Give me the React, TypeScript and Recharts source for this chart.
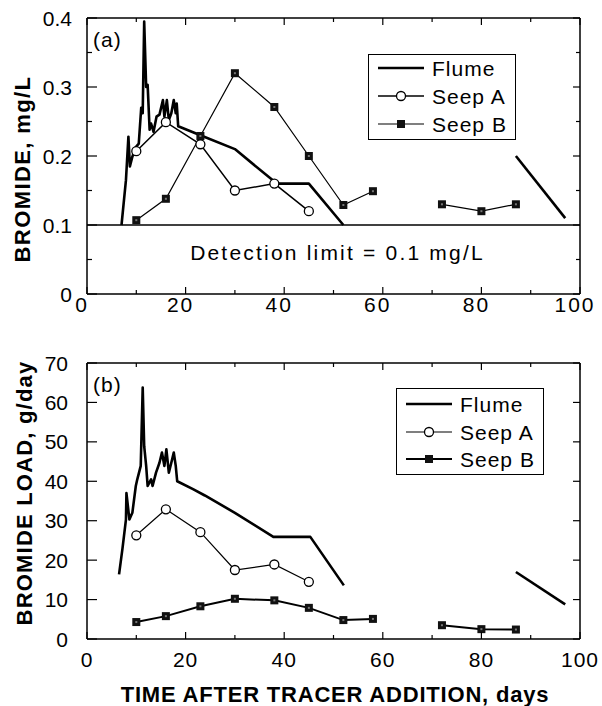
import React from 'react';
import { LineChart, Line, XAxis, YAxis, ReferenceLine, Legend } from 'recharts';

const FONT = '"Liberation Sans", Arial, Helvetica, sans-serif';

// tick values
const dayTicks = [0, 10, 20, 30, 40, 50, 60, 70, 80, 90, 100];
const concTicks = [0, 0.05, 0.1, 0.15, 0.2, 0.25, 0.3, 0.35, 0.4];
const loadTicks = [0, 10, 20, 30, 40, 50, 60, 70];

// sampling days of the seeps
const seepADays = [10, 16, 23, 30, 38, 45];
const seepBDaysEarly = [10, 16, 23, 30, 38, 45, 52, 58];
const seepBDaysLate = [72, 80, 87];

// (a) bromide concentration, mg/L
const flumeConcDays = [7, 7.9, 8.4, 8.7, 9.2, 9.9, 10.5, 11, 11.3, 11.6, 12, 12.3, 12.7, 13, 13.5, 14.1, 14.7, 15.4, 15.7, 16.2, 16.6, 17.1, 17.6, 18, 18.2, 18.5, 23, 30, 38.5, 45, 52];
const flumeConc = [0.1, 0.165, 0.228, 0.185, 0.199, 0.213, 0.218, 0.27, 0.262, 0.395, 0.3, 0.303, 0.238, 0.247, 0.235, 0.257, 0.26, 0.281, 0.257, 0.281, 0.252, 0.262, 0.281, 0.262, 0.276, 0.243, 0.23, 0.21, 0.16, 0.16, 0.1];
const flumeConcLateDays = [87, 97];
const flumeConcLate = [0.2, 0.11];
const seepAConc = [0.207, 0.249, 0.217, 0.15, 0.16, 0.12];
const seepBConcEarly = [0.107, 0.138, 0.229, 0.32, 0.271, 0.2, 0.129, 0.149];
const seepBConcLate = [0.13, 0.12, 0.13];
const detectionLimit = 0.1;

// (b) bromide load, g/day
const flumeLoadDays = [6.5, 7.2, 7.9, 8.0, 8.6, 9.2, 9.9, 10.2, 10.9, 11.3, 11.6, 12, 12.3, 13, 13.3, 14, 14.7, 15.2, 15.7, 16.1, 16.6, 17.1, 17.6, 18, 18.3, 21.5, 23.9, 30, 37.8, 45.3, 52.1];
const flumeLoad = [16.4, 23, 30.3, 37, 30.3, 32, 38.8, 40.5, 43.9, 63.8, 48.9, 43.9, 38.8, 40.5, 38.8, 42.2, 44.7, 47.3, 43.9, 48.1, 42.2, 44.7, 47.3, 43.9, 40, 38, 36.4, 32, 25.9, 25.9, 13.6];
const flumeLoadLateDays = [87, 97];
const flumeLoadLate = [17, 8.8];
const seepALoad = [26.3, 32.9, 27.1, 17.5, 18.9, 14.5];
const seepBLoadEarly = [4.3, 5.8, 8.3, 10.2, 9.8, 7.9, 4.8, 5.1];
const seepBLoadLate = [3.5, 2.5, 2.4];

const pts = (xs: number[], ys: number[]) => xs.map((d, i) => ({ day: d, v: ys[i] }));

const margin = { top: 17, right: 21, left: 86, bottom: 0 };

function BottomTick(props: any) {
  const { x, y, payload, dy, dx, ls } = props;
  const major = payload.value % 20 === 0;
  return (
    <g>
      <line x1={x} x2={x} y1={y} y2={y - (major ? 7 : 4)} stroke="#000" strokeWidth={1.2} />
      {major && (
        <text x={x + dx} y={y + dy} textAnchor="middle" fontFamily={FONT} fontSize={21} letterSpacing={ls} fill="#000">
          {payload.value}
        </text>
      )}
    </g>
  );
}

function TopTick(props: any) {
  const { x, y, payload } = props;
  const major = payload.value % 20 === 0;
  return <line x1={x} x2={x} y1={y} y2={y + (major ? 7 : 4)} stroke="#000" strokeWidth={1.2} />;
}

function LeftTick(props: any) {
  const { x, y, payload, dx, isMajor } = props;
  const major = isMajor(payload.value);
  return (
    <g>
      <line x1={x} x2={x + (major ? 10 : 5)} y1={y} y2={y} stroke="#000" strokeWidth={1.2} />
      {major && (
        <text x={x + dx} y={y + 7.5} textAnchor="end" fontFamily={FONT} fontSize={21} fill="#000">
          {String(payload.value)}
        </text>
      )}
    </g>
  );
}

function RightTick(props: any) {
  const { x, y, payload, isMajor } = props;
  const major = isMajor(payload.value);
  return <line x1={x} x2={x - (major ? 7 : 4)} y1={y} y2={y} stroke="#000" strokeWidth={1.2} />;
}

function OpenCircle(props: any) {
  const { cx, cy, index } = props;
  if (cx == null || cy == null) return <g key={index} />;
  return <circle key={index} cx={cx} cy={cy} r={4.5} fill="#fff" stroke="#000" strokeWidth={1.3} />;
}

function FilledSquare(props: any) {
  const { cx, cy, index } = props;
  if (cx == null || cy == null) return <g key={index} />;
  return (
    <g key={index}>
      <rect x={cx - 4} y={cy - 4} width={8} height={8} fill="#111" />
      <rect x={cx - 1} y={cy - 1} width={2} height={2} fill="#777" />
    </g>
  );
}

function Title(props: any) {
  const { text, cx, cy, rotate, ls } = props;
  return (
    <text
      x={cx}
      y={cy}
      textAnchor="middle"
      dominantBaseline="central"
      fontFamily={FONT}
      fontWeight="bold"
      fontSize={22}
      letterSpacing={ls}
      fill="#000"
      transform={rotate ? `rotate(-90 ${cx} ${cy})` : undefined}
    >
      {text}
    </text>
  );
}

function LegendBox(props: any) {
  const { rows, wA, wB } = props;
  return (
    <div style={{ border: '1.5px solid #000', background: '#fff', width: 148, height: rows[2] + 17, boxSizing: 'border-box' }}>
      <svg width={146} height={rows[2] + 14} style={{ display: 'block' }}>
        <line x1={9} x2={55} y1={rows[0]} y2={rows[0]} stroke="#000" strokeWidth={2.5} />
        <line x1={9} x2={55} y1={rows[1]} y2={rows[1]} stroke="#000" strokeWidth={wA} />
        <circle cx={32} cy={rows[1]} r={4.5} fill="#fff" stroke="#000" strokeWidth={1.3} />
        <line x1={9} x2={55} y1={rows[2]} y2={rows[2]} stroke="#000" strokeWidth={wB} />
        <rect x={28} y={rows[2] - 4} width={8} height={8} fill="#111" />
        {['Flume', 'Seep A', 'Seep B'].map((t, i) => (
          <text key={t} x={63} y={rows[i] + 7.5} fontFamily={FONT} fontSize={21} letterSpacing={1} fill="#000">
            {t}
          </text>
        ))}
      </svg>
    </div>
  );
}

function Panel(props: any) {
  const {
    height, xAxisHeight, yDomain, yTicks, isMajor, flume, flumeLate, seepA, seepBEarly, seepBLate,
    tickDy, tickDx, tickLs, yLabelDx, yTitle, legendPos, legendRows, wA, wB, children, xTitle,
  } = props;
  return (
    <LineChart width={602} height={height} margin={margin}>
      <XAxis
        xAxisId="b"
        dataKey="day"
        type="number"
        domain={[0, 100]}
        ticks={dayTicks}
        interval={0}
        height={xAxisHeight}
        tickSize={0}
        tickMargin={0}
        axisLine={{ stroke: '#000', strokeWidth: 1.5 }}
        tickLine={false}
        tick={<BottomTick dy={tickDy} dx={tickDx} ls={tickLs} />}
        label={xTitle}
        allowDataOverflow
      />
      <XAxis
        xAxisId="t"
        orientation="top"
        dataKey="day"
        type="number"
        domain={[0, 100]}
        ticks={dayTicks}
        interval={0}
        height={1}
        tickSize={0}
        tickMargin={0}
        axisLine={{ stroke: '#000', strokeWidth: 1.5 }}
        tickLine={false}
        tick={<TopTick />}
        allowDataOverflow
      />
      <YAxis
        yAxisId="l"
        type="number"
        domain={yDomain}
        ticks={yTicks}
        interval={0}
        width={1}
        tickSize={0}
        tickMargin={0}
        axisLine={{ stroke: '#000', strokeWidth: 1.5 }}
        tickLine={false}
        tick={<LeftTick dx={yLabelDx} isMajor={isMajor} />}
        label={yTitle}
        allowDataOverflow
      />
      <YAxis
        yAxisId="r"
        orientation="right"
        type="number"
        domain={yDomain}
        ticks={yTicks}
        interval={0}
        width={1}
        tickSize={0}
        tickMargin={0}
        axisLine={{ stroke: '#000', strokeWidth: 1.5 }}
        tickLine={false}
        tick={<RightTick isMajor={isMajor} />}
        allowDataOverflow
      />
      {children}
      <Line xAxisId="b" yAxisId="l" data={seepBEarly} dataKey="v" stroke="#000" strokeWidth={wB} dot={FilledSquare} isAnimationActive={false} legendType="none" />
      <Line xAxisId="b" yAxisId="l" data={seepBLate} dataKey="v" stroke="#000" strokeWidth={wB} dot={FilledSquare} isAnimationActive={false} legendType="none" />
      <Line xAxisId="b" yAxisId="l" data={flume} dataKey="v" stroke="#000" strokeWidth={2.6} dot={false} strokeLinejoin="round" isAnimationActive={false} legendType="none" />
      <Line xAxisId="b" yAxisId="l" data={flumeLate} dataKey="v" stroke="#000" strokeWidth={2.6} dot={false} isAnimationActive={false} legendType="none" />
      <Line xAxisId="b" yAxisId="l" data={seepA} dataKey="v" stroke="#000" strokeWidth={wA} dot={OpenCircle} isAnimationActive={false} legendType="none" />
      <Legend
        layout="vertical"
        align="center"
        verticalAlign="middle"
        content={<LegendBox rows={legendRows} wA={wA} wB={wB} />}
        wrapperStyle={{ position: 'absolute', left: legendPos[0], top: legendPos[1], width: 'auto', margin: 0 }}
      />
    </LineChart>
  );
}

const majorConc = (v: number) => Math.round(v * 100) % 10 === 0;
const majorLoad = (v: number) => v % 10 === 0;

export default function App() {
  return (
    <div style={{ position: 'absolute', left: 0, top: 0, width: 602, height: 706, background: '#fff', fontFamily: FONT }}>
      <div style={{ position: 'absolute', left: 0, top: 0 }}>
        <Panel
          height={340}
          xAxisHeight={46}
          yDomain={[0, 0.4]}
          yTicks={concTicks}
          isMajor={majorConc}
          flume={pts(flumeConcDays, flumeConc)}
          flumeLate={pts(flumeConcLateDays, flumeConcLate)}
          seepA={pts(seepADays, seepAConc)}
          seepBEarly={pts(seepBDaysEarly, seepBConcEarly)}
          seepBLate={pts(seepBDaysLate, seepBConcLate)}
          tickDy={17.5}
          tickDx={-5}
          tickLs={2}
          yLabelDx={-15}
          yTitle={<Title text="BROMIDE, mg/L" cx={22} cy={169} rotate ls={1.4} />}
          legendPos={[368, 54]}
          legendRows={[13, 41, 69]}
          wA={1.5}
          wB={1.2}
        >
          <ReferenceLine
            xAxisId="b"
            yAxisId="l"
            y={detectionLimit}
            stroke="#000"
            strokeWidth={1.5}
            label={{ value: 'Detection limit = 0.1 mg/L', position: 'bottom', offset: 20, fontFamily: FONT, fontSize: 21, fill: '#000', letterSpacing: 2.2, dx: 4 }}
          />
        </Panel>
      </div>
      <div style={{ position: 'absolute', left: 93, top: 28, fontSize: 21, lineHeight: '24px', letterSpacing: 1 }}>(a)</div>
      <div style={{ position: 'absolute', left: 0, top: 345 }}>
        <Panel
          height={361}
          xAxisHeight={67}
          yDomain={[0, 70]}
          yTicks={loadTicks}
          isMajor={majorLoad}
          flume={pts(flumeLoadDays, flumeLoad)}
          flumeLate={pts(flumeLoadLateDays, flumeLoadLate)}
          seepA={pts(seepADays, seepALoad)}
          seepBEarly={pts(seepBDaysEarly, seepBLoadEarly)}
          seepBLate={pts(seepBDaysLate, seepBLoadLate)}
          tickDy={27.5}
          tickDx={0}
          tickLs={1}
          yLabelDx={-19}
          yTitle={<Title text="BROMIDE LOAD, g/day" cx={24} cy={148} rotate ls={1.2} />}
          xTitle={<Title text="TIME AFTER TRACER ADDITION, days" cx={335} cy={349} ls={0.8} />}
          legendPos={[396, 43]}
          legendRows={[15, 43, 70]}
          wA={1.2}
          wB={2}
        />
      </div>
      <div style={{ position: 'absolute', left: 93, top: 373, fontSize: 21, lineHeight: '24px', letterSpacing: 1 }}>(b)</div>
    </div>
  );
}
